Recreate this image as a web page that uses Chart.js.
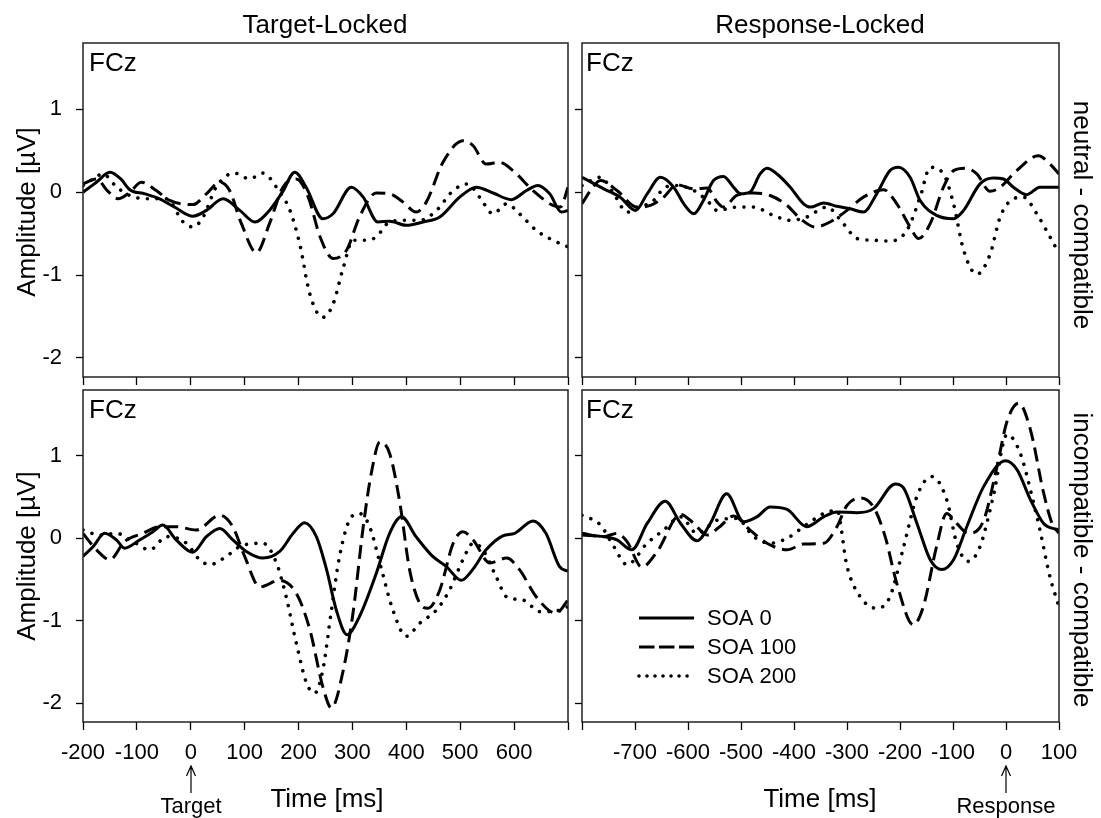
<!DOCTYPE html>
<html>
<head>
<meta charset="utf-8">
<script src="https://cdn.jsdelivr.net/npm/chart.js@4/dist/chart.umd.min.js"></script>
<style>
  html, body { margin: 0; padding: 0; background: #fff; }
  #wrap { position: relative; width: 1101px; height: 818px; overflow: hidden; background: #fff;
          font-family: Arial, "Liberation Sans", sans-serif; color: #000; }
  #wrap canvas { position: absolute; left: 0; top: 0; }
  .lbl { position: absolute; white-space: nowrap; line-height: 1; transform: translate(-50%, -50%); }
  .big { font-size: 26px; }
  .mid { font-size: 22px; }
  .fcz { position: absolute; font-size: 26px; line-height: 1; transform: translateY(-50%); }
  svg { position: absolute; left: 0; top: 0; }
</style>
</head>
<body>
<div id="wrap">
  <canvas id="cTL" width="1101" height="818"></canvas>
  <canvas id="cTR" width="1101" height="818"></canvas>
  <canvas id="cBL" width="1101" height="818"></canvas>
  <canvas id="cBR" width="1101" height="818"></canvas>

  <div class="lbl big" style="left:325px;top:24px;">Target-Locked</div>
  <div class="lbl big" style="left:820px;top:24px;">Response-Locked</div>

  <div class="fcz" style="left:89px;top:62px;">FCz</div>
  <div class="fcz" style="left:586px;top:62px;">FCz</div>
  <div class="fcz" style="left:89px;top:409px;">FCz</div>
  <div class="fcz" style="left:586px;top:409px;">FCz</div>

  <div class="lbl big" style="left:26px;top:212px;transform:translate(-50%,-50%) rotate(-90deg);">Amplitude [µV]</div>
  <div class="lbl big" style="left:26px;top:556px;transform:translate(-50%,-50%) rotate(-90deg);">Amplitude [µV]</div>
  <div class="lbl big" style="left:1083px;top:215px;transform:translate(-50%,-50%) rotate(90deg);">neutral - compatible</div>
  <div class="lbl big" style="left:1083px;top:560px;transform:translate(-50%,-50%) rotate(90deg);">incompatible - compatible</div>

  <div class="lbl big" style="left:327px;top:798px;">Time [ms]</div>
  <div class="lbl big" style="left:820px;top:798px;">Time [ms]</div>
  <div class="lbl mid" style="left:191px;top:806px;">Target</div>
  <div class="lbl mid" style="left:1006px;top:806px;">Response</div>

  <svg width="1101" height="818">
    <g stroke="#000" stroke-width="1.2" fill="none">
      <path d="M191 793 V766 M186.5 776 L191 766 L195.5 776"/>
      <path d="M1006 793 V766 M1001.5 776 L1006 766 L1010.5 776"/>
    </g>
  </svg>
</div>

<script>
// ---- data: [time ms, amplitude µV] ----
// target-locked, neutral - compatible
const tlSoa0 = [[-200,0.0],[-175,0.12],[-150,0.24],[-130,0.16],[-113,0.03],[-85,-0.02],[-58,-0.08],[-30,-0.18],[4,-0.29],[29,-0.22],[60,-0.08],[91,-0.22],[119,-0.36],[146,-0.22],[170,0.0],[193,0.24],[214,0.06],[245,-0.32],[264,-0.26],[298,0.06],[320,-0.06],[347,-0.36],[369,-0.35],[400,-0.40],[431,-0.36],[462,-0.30],[499,-0.06],[530,0.06],[561,-0.01],[595,-0.09],[623,0.02],[644,0.08],[666,-0.02],[688,-0.24],[700,-0.22]];
const tlSoa100 = [[-200,0.10],[-175,0.16],[-155,0.02],[-135,-0.08],[-113,0.0],[-92,0.12],[-64,0.02],[-39,-0.10],[4,-0.15],[29,-0.02],[54,0.12],[72,0.02],[94,-0.38],[122,-0.73],[146,-0.38],[171,0.06],[196,0.16],[218,-0.06],[240,-0.54],[264,-0.80],[289,-0.70],[313,-0.30],[344,-0.01],[369,-0.02],[394,-0.12],[418,-0.24],[437,-0.12],[468,0.36],[505,0.62],[524,0.56],[548,0.34],[573,0.36],[598,0.26],[635,0.02],[672,-0.16],[686,-0.18],[700,0.06]];
const tlSoa200 = [[-200,0.08],[-181,0.16],[-163,0.22],[-140,0.08],[-120,-0.02],[-82,-0.08],[-45,-0.08],[-14,-0.36],[4,-0.42],[23,-0.30],[47,0.06],[81,0.23],[109,0.16],[134,0.23],[159,0.06],[184,-0.22],[202,-0.62],[221,-1.23],[245,-1.51],[264,-1.35],[283,-0.91],[301,-0.58],[326,-0.58],[344,-0.54],[369,-0.36],[400,-0.34],[425,-0.34],[456,-0.22],[487,0.02],[514,0.10],[536,-0.06],[561,-0.26],[586,-0.14],[610,-0.26],[641,-0.46],[672,-0.58],[700,-0.66]];

// response-locked, neutral - compatible
const trSoa0 = [[-800,0.18],[-759,0.04],[-728,-0.06],[-699,-0.22],[-677,-0.02],[-652,0.18],[-627,0.06],[-608,-0.14],[-589,-0.26],[-571,-0.10],[-552,0.14],[-533,0.19],[-514,0.06],[-501,-0.02],[-483,0.0],[-464,0.22],[-451,0.29],[-432,0.22],[-407,0.06],[-382,-0.14],[-369,-0.18],[-344,-0.13],[-319,-0.17],[-294,-0.20],[-269,-0.24],[-244,-0.02],[-219,0.26],[-203,0.30],[-181,0.18],[-162,-0.10],[-131,-0.28],[-99,-0.32],[-80,-0.22],[-49,0.10],[-24,0.17],[-5,0.16],[14,0.06],[39,-0.03],[64,0.06],[100,0.06]];
const trSoa100 = [[-800,-0.14],[-784,0.02],[-765,0.14],[-734,0.02],[-696,-0.18],[-671,-0.16],[-646,-0.06],[-621,0.09],[-589,0.04],[-564,0.05],[-545,-0.12],[-533,-0.18],[-508,-0.04],[-476,-0.01],[-445,-0.04],[-413,-0.16],[-388,-0.32],[-360,-0.42],[-332,-0.36],[-300,-0.22],[-269,-0.06],[-231,0.03],[-206,-0.14],[-181,-0.42],[-165,-0.56],[-143,-0.38],[-118,0.06],[-99,0.26],[-77,0.29],[-55,0.22],[-30,0.01],[-11,0.06],[20,0.26],[61,0.44],[83,0.34],[100,0.22]];
const trSoa200 = [[-800,0.08],[-765,0.18],[-740,-0.02],[-715,-0.24],[-690,-0.18],[-665,-0.10],[-643,0.06],[-621,0.08],[-589,0.02],[-564,-0.10],[-545,-0.22],[-508,-0.18],[-476,-0.18],[-439,-0.28],[-407,-0.34],[-376,-0.30],[-338,-0.18],[-307,-0.38],[-281,-0.56],[-250,-0.58],[-219,-0.59],[-187,-0.46],[-162,-0.06],[-143,0.30],[-118,0.22],[-99,-0.14],[-80,-0.70],[-55,-0.99],[-30,-0.75],[-11,-0.30],[14,-0.08],[33,-0.06],[58,-0.26],[83,-0.54],[100,-0.74]];

// target-locked, incompatible - compatible
const blSoa0 = [[-200,-0.22],[-181,-0.10],[-160,0.06],[-138,-0.02],[-123,-0.12],[-95,-0.02],[-70,0.08],[-52,0.16],[-27,-0.02],[4,-0.17],[29,0.02],[54,0.12],[78,-0.02],[103,-0.16],[134,-0.24],[165,-0.16],[190,0.06],[211,0.19],[233,0.02],[252,-0.38],[270,-0.87],[290,-1.17],[313,-0.95],[344,-0.43],[369,0.06],[391,0.26],[418,0.02],[449,-0.22],[474,-0.34],[502,-0.51],[523,-0.38],[548,-0.14],[579,0.03],[601,0.06],[635,0.21],[659,0.06],[684,-0.34],[700,-0.40]];
const blSoa100 = [[-200,0.06],[-175,-0.14],[-150,-0.26],[-123,-0.04],[-89,0.06],[-58,0.14],[-27,0.14],[10,0.10],[54,0.28],[78,0.14],[100,-0.22],[128,-0.59],[165,-0.51],[196,-0.67],[221,-1.11],[245,-1.80],[261,-2.06],[283,-1.60],[301,-0.91],[320,0.14],[335,0.79],[351,1.17],[369,1.03],[388,0.43],[406,-0.38],[425,-0.79],[440,-0.85],[462,-0.63],[487,-0.06],[505,0.08],[524,-0.02],[555,-0.30],[586,-0.24],[610,-0.38],[641,-0.71],[678,-0.91],[700,-0.75]];
const blSoa200 = [[-200,0.10],[-169,0.04],[-138,0.06],[-107,-0.04],[-76,-0.14],[-45,0.02],[-8,-0.06],[16,-0.26],[35,-0.32],[66,-0.22],[91,-0.10],[134,-0.06],[159,-0.30],[177,-0.71],[196,-1.28],[215,-1.76],[230,-1.88],[245,-1.60],[261,-0.87],[276,-0.22],[298,0.26],[313,0.30],[332,0.14],[354,-0.38],[375,-0.87],[400,-1.19],[425,-1.03],[456,-0.87],[480,-0.63],[505,-0.26],[524,-0.06],[542,-0.14],[567,-0.47],[586,-0.71],[617,-0.75],[648,-0.89],[672,-0.89],[700,-0.83]];

// response-locked, incompatible - compatible
const brSoa0 = [[-800,0.04],[-759,0.02],[-734,-0.02],[-706,-0.14],[-677,0.18],[-643,0.45],[-614,0.18],[-583,-0.03],[-558,0.18],[-527,0.54],[-495,0.20],[-470,0.26],[-445,0.38],[-413,0.35],[-376,0.14],[-344,0.26],[-319,0.32],[-281,0.31],[-250,0.36],[-209,0.66],[-193,0.61],[-168,0.18],[-143,-0.26],[-121,-0.38],[-99,-0.26],[-74,0.14],[-42,0.63],[-1,0.94],[21,0.83],[46,0.47],[71,0.18],[100,0.10]];
const brSoa100 = [[-800,0.06],[-759,0.02],[-734,0.06],[-715,-0.04],[-687,-0.35],[-658,-0.16],[-614,0.29],[-589,0.18],[-564,0.04],[-542,0.13],[-514,0.27],[-483,0.10],[-451,-0.06],[-413,-0.14],[-382,-0.07],[-344,-0.06],[-319,0.14],[-300,0.40],[-275,0.49],[-250,0.38],[-228,0.02],[-206,-0.55],[-175,-1.05],[-156,-0.83],[-131,-0.10],[-112,0.30],[-93,0.18],[-71,0.06],[-42,0.22],[-17,0.87],[2,1.42],[24,1.64],[46,1.32],[71,0.55],[87,0.18],[100,0.06]];
const brSoa200 = [[-800,0.28],[-765,0.16],[-740,-0.10],[-715,-0.32],[-677,-0.06],[-646,0.10],[-614,0.26],[-583,0.06],[-545,0.22],[-508,0.24],[-476,0.02],[-445,-0.06],[-413,0.0],[-382,0.14],[-344,0.30],[-319,0.34],[-300,-0.34],[-275,-0.71],[-244,-0.85],[-219,-0.71],[-193,-0.10],[-168,0.51],[-140,0.75],[-112,0.47],[-93,-0.06],[-71,-0.28],[-49,-0.10],[-24,0.51],[2,1.26],[27,1.03],[49,0.51],[64,0.10],[83,-0.47],[100,-0.83]];

// ---- axes ----
const SERIES_NAMES = ['SOA 0', 'SOA 100', 'SOA 200'];
const Y_TICKS = [-2, -1, 0, 1];
const TARGET_TICKS = [-200, -100, 0, 100, 200, 300, 400, 500, 600, 700];
const TARGET_LABELS = [-200, -100, 0, 100, 200, 300, 400, 500, 600];
const RESP_TICKS = [-800, -700, -600, -500, -400, -300, -200, -100, 0, 100];
const RESP_LABELS = [-700, -600, -500, -400, -300, -200, -100, 0, 100];

const FONT = 'Arial, "Liberation Sans", sans-serif';
const Y_MIN = -2.23, Y_MAX = 1.8;

// solid / dashed / dotted
const STYLES = [
  { borderWidth: 3, borderDash: [], borderCapStyle: 'butt' },
  { borderWidth: 3, borderDash: [14, 7], borderCapStyle: 'butt' },
  { borderWidth: 3.6, borderDash: [0.01, 9.5], borderCapStyle: 'round' }
];

function mkSets(list) {
  return list.map((pts, i) => Object.assign({
    label: SERIES_NAMES[i],
    data: pts.map(p => ({ x: p[0], y: p[1] })),
    borderColor: '#000',
    fill: false,
    pointRadius: 0,
    cubicInterpolationMode: 'monotone'
  }, STYLES[i]));
}

const framePlugin = {
  id: 'frame',
  afterDraw(chart) {
    const { ctx, chartArea: a } = chart;
    ctx.save();
    ctx.setLineDash([]);
    ctx.strokeStyle = '#222';
    ctx.lineWidth = 1.5;
    ctx.strokeRect(a.left, a.top, a.right - a.left, a.bottom - a.top);
    ctx.restore();
  }
};

const legendPlugin = {
  id: 'soaLegend',
  afterDatasetsDraw(chart) {
    const { ctx, chartArea: a } = chart;
    ctx.save();
    chart.data.datasets.forEach((ds, i) => {
      const y = a.top + 228 + i * 29;
      const x0 = a.left + 57, x1 = a.left + 112;
      ctx.beginPath();
      ctx.strokeStyle = '#000';
      ctx.lineWidth = ds.borderWidth;
      ctx.lineCap = ds.borderCapStyle;
      ctx.setLineDash(i === 1 ? [15.5, 4.5] : i === 2 ? [0.01, 8] : []);
      ctx.moveTo(x0, y);
      ctx.lineTo(x1, y);
      ctx.stroke();
      ctx.setLineDash([]);
      ctx.fillStyle = '#000';
      ctx.font = '22px ' + FONT;
      ctx.textBaseline = 'middle';
      ctx.fillText(ds.label, a.left + 125, y + 1);
    });
    ctx.restore();
  }
};

function makePanel(id, sets, opt) {
  const xShow = opt.xLabels;
  const yShow = opt.yLabels;
  new Chart(document.getElementById(id), {
    type: 'line',
    data: { datasets: mkSets(sets) },
    options: {
      responsive: false,
      animation: false,
      events: [],
      layout: { padding: opt.pad },
      plugins: { legend: { display: false }, tooltip: { enabled: false } },
      scales: {
        x: {
          type: 'linear',
          min: opt.xMin, max: opt.xMax,
          afterBuildTicks: s => { s.ticks = opt.xTicks.map(v => ({ value: v })); },
          afterFit: s => { s.height = opt.xH; },
          grid: { drawOnChartArea: false, drawTicks: true, tickLength: 8, tickColor: '#000', tickWidth: 1.3 },
          border: { display: false },
          ticks: {
            autoSkip: false, maxRotation: 0, minRotation: 0, padding: 10,
            color: '#000', font: { family: FONT, size: 22 },
            callback: v => (xShow && xShow.includes(v)) ? String(v) : ''
          }
        },
        y: {
          type: 'linear',
          min: Y_MIN, max: Y_MAX,
          afterBuildTicks: s => { s.ticks = Y_TICKS.map(v => ({ value: v })); },
          afterFit: s => { s.width = opt.yW; },
          grid: { drawOnChartArea: false, drawTicks: true, tickLength: 7, tickColor: '#000', tickWidth: 1.3 },
          border: { display: false },
          ticks: {
            padding: 14,
            color: '#000', font: { family: FONT, size: 22 },
            callback: v => yShow ? String(v) : ''
          }
        }
      }
    },
    plugins: opt.legend ? [framePlugin, legendPlugin] : [framePlugin]
  });
}

// plot areas: left 83..568 / 582..1059, top 43..377 / 390..722
makePanel('cTL', [tlSoa0, tlSoa100, tlSoa200], {
  xMin: -200, xMax: 700, xTicks: TARGET_TICKS, xLabels: null, yLabels: true,
  yW: 60, xH: 12, pad: { left: 23, right: 533, top: 43, bottom: 429 }
});
makePanel('cTR', [trSoa0, trSoa100, trSoa200], {
  xMin: -800, xMax: 100, xTicks: RESP_TICKS, xLabels: null, yLabels: false,
  yW: 20, xH: 12, pad: { left: 562, right: 42, top: 43, bottom: 429 }
});
makePanel('cBL', [blSoa0, blSoa100, blSoa200], {
  xMin: -200, xMax: 700, xTicks: TARGET_TICKS, xLabels: TARGET_LABELS, yLabels: true,
  yW: 60, xH: 50, pad: { left: 23, right: 533, top: 390, bottom: 46 }
});
makePanel('cBR', [brSoa0, brSoa100, brSoa200], {
  xMin: -800, xMax: 100, xTicks: RESP_TICKS, xLabels: RESP_LABELS, yLabels: false,
  yW: 20, xH: 50, pad: { left: 562, right: 42, top: 390, bottom: 46 }, legend: true
});
</script>
</body>
</html>
